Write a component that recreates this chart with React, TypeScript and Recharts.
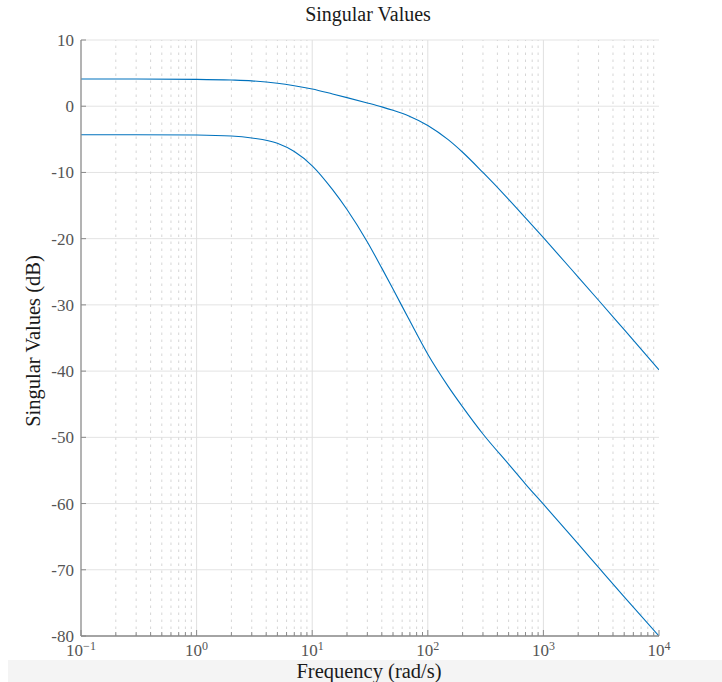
import React from "react";
import { LineChart, Line, XAxis, YAxis, CartesianGrid, ReferenceLine } from "recharts";

const freqs = [0.1, 0.3, 1, 2, 3, 5, 7, 10, 15, 20, 30, 40, 50, 70, 100, 150, 200, 300, 500, 700, 1000, 2000, 3000, 5000, 10000];
const upperDb = [4.1, 4.1, 4.05, 3.95, 3.83, 3.48, 3.1, 2.6, 1.85, 1.3, 0.5, -0.1, -0.62, -1.55, -2.9, -5.05, -6.95, -10.0, -14.05, -16.85, -19.85, -25.8, -29.3, -33.75, -39.8];
const lowerDb = [-4.3, -4.3, -4.35, -4.5, -4.8, -5.6, -6.85, -9.0, -12.6, -15.6, -20.5, -24.45, -27.6, -32.45, -37.45, -42.3, -45.4, -49.5, -54.05, -57.05, -60.1, -66.1, -69.65, -74.1, -80.0];

const majorX = [0.1, 1, 10, 100, 1000, 10000];
const majorExp = ["−1", "0", "1", "2", "3", "4"];
const innerMajorX = [1, 10, 100, 1000];
const minorX: number[] = [];
[0.1, 1, 10, 100, 1000].forEach((d) => {
  for (let k = 2; k <= 9; k++) minorX.push(d * k);
});
const allX = [...majorX, ...minorX].sort((a, b) => a - b);
const yTicks = [-80, -70, -60, -50, -40, -30, -20, -10, 0, 10];

const data = freqs.map((f, i) => ({ f, upper: upperDb[i], lower: lowerDb[i] }));

const FONT = "'Liberation Serif', 'DejaVu Serif', serif";
const AXIS = "#8a8a8a";
const LABEL = "#555555";

const isMajor = (v: number) => majorX.some((m) => Math.abs(m - v) / m < 1e-6);

const BottomTick = (props: any) => {
  const { x, y, payload } = props;
  const major = isMajor(payload.value);
  const idx = majorX.findIndex((m) => Math.abs(m - payload.value) / m < 1e-6);
  return (
    <g>
      <line x1={x} y1={y} x2={x} y2={y - (major ? 6 : 4)} stroke={AXIS} strokeWidth={1} />
      {major && (
        <text x={x} y={y + 20} textAnchor="middle" fontFamily={FONT} fontSize={17} fill={LABEL}>
          10
          <tspan fontSize={12} dy={-6}>{majorExp[idx]}</tspan>
        </text>
      )}
    </g>
  );
};

const TopTick = (props: any) => {
  const { x, y, payload } = props;
  const major = isMajor(payload.value);
  return <line x1={x} y1={y} x2={x} y2={y + (major ? 6 : 4)} stroke={AXIS} strokeWidth={1} />;
};

const LeftTick = (props: any) => {
  const { x, y, payload } = props;
  return (
    <g>
      <line x1={x} y1={y} x2={x + 5} y2={y} stroke={AXIS} strokeWidth={1} />
      <text x={x - 7} y={y} dy="0.35em" textAnchor="end" fontFamily={FONT} fontSize={17} fill={LABEL}>
        {String(payload.value)}
      </text>
    </g>
  );
};

const RightTick = (props: any) => {
  const { x, y } = props;
  return <line x1={x} y1={y} x2={x - 5} y2={y} stroke={AXIS} strokeWidth={1} />;
};

export default function App() {
  return (
    <div style={{ position: "absolute", left: 0, top: 0, width: 722, height: 682, background: "#ffffff" }}>
      <div style={{ position: "absolute", left: 8, top: 660, width: 714, height: 22, background: "#f4f4f4" }} />
      <div style={{ position: "absolute", left: 0, top: 0 }}>
        <LineChart width={722} height={682} data={data} margin={{ top: 40, right: 63, left: 0, bottom: 0 }}>
          <CartesianGrid xAxisId="x" yAxisId="y" vertical={false} stroke="#e3e3e3" />
          <XAxis
            xAxisId="x"
            dataKey="f"
            type="number"
            scale="log"
            domain={[0.1, 10000]}
            allowDataOverflow
            ticks={allX}
            interval={0}
            height={46}
            tickSize={0}
            tickMargin={0}
            tickLine={false}
            axisLine={{ stroke: AXIS, strokeWidth: 1.3 }}
            tick={BottomTick}
          />
          <XAxis
            xAxisId="top"
            dataKey="f"
            type="number"
            scale="log"
            orientation="top"
            domain={[0.1, 10000]}
            allowDataOverflow
            ticks={allX}
            interval={0}
            height={0}
            tickSize={0}
            tickMargin={0}
            tickLine={false}
            axisLine={{ stroke: AXIS, strokeWidth: 1.3 }}
            tick={TopTick}
          />
          <YAxis
            yAxisId="y"
            type="number"
            domain={[-80, 10]}
            ticks={yTicks}
            interval={0}
            width={81}
            tickSize={0}
            tickMargin={0}
            tickLine={false}
            axisLine={{ stroke: AXIS, strokeWidth: 1.3 }}
            tick={LeftTick}
          />
          <YAxis
            yAxisId="yr"
            type="number"
            orientation="right"
            domain={[-80, 10]}
            ticks={yTicks}
            interval={0}
            width={0}
            tickSize={0}
            tickMargin={0}
            tickLine={false}
            axisLine={{ stroke: AXIS, strokeWidth: 1.3 }}
            tick={RightTick}
          />
          {minorX.map((v) => (
            <ReferenceLine key={"m" + v} x={v} xAxisId="x" yAxisId="y" stroke="#d6d6d6" strokeDasharray="2.5 4.5" />
          ))}
          {innerMajorX.map((v) => (
            <ReferenceLine key={"M" + v} x={v} xAxisId="x" yAxisId="y" stroke="#e0e0e0" />
          ))}
          <Line xAxisId="x" yAxisId="y" type="monotone" dataKey="upper" stroke="#0072BD" strokeWidth={1.1} dot={false} isAnimationActive={false} />
          <Line xAxisId="x" yAxisId="y" type="monotone" dataKey="lower" stroke="#0072BD" strokeWidth={1.1} dot={false} isAnimationActive={false} />
        </LineChart>
      </div>
      <svg width={722} height={682} style={{ position: "absolute", left: 0, top: 0, pointerEvents: "none" }}>
        <text x={368} y={21} textAnchor="middle" fontFamily={FONT} fontSize={20} fill="#1a1a1a">
          Singular Values
        </text>
        <text x={369} y={678} textAnchor="middle" fontFamily={FONT} fontSize={20.5} fill="#1a1a1a">
          Frequency (rad/s)
        </text>
        <text transform="translate(40,341) rotate(-90)" textAnchor="middle" fontFamily={FONT} fontSize={20.5} fill="#1a1a1a">
          Singular Values (dB)
        </text>
      </svg>
    </div>
  );
}
